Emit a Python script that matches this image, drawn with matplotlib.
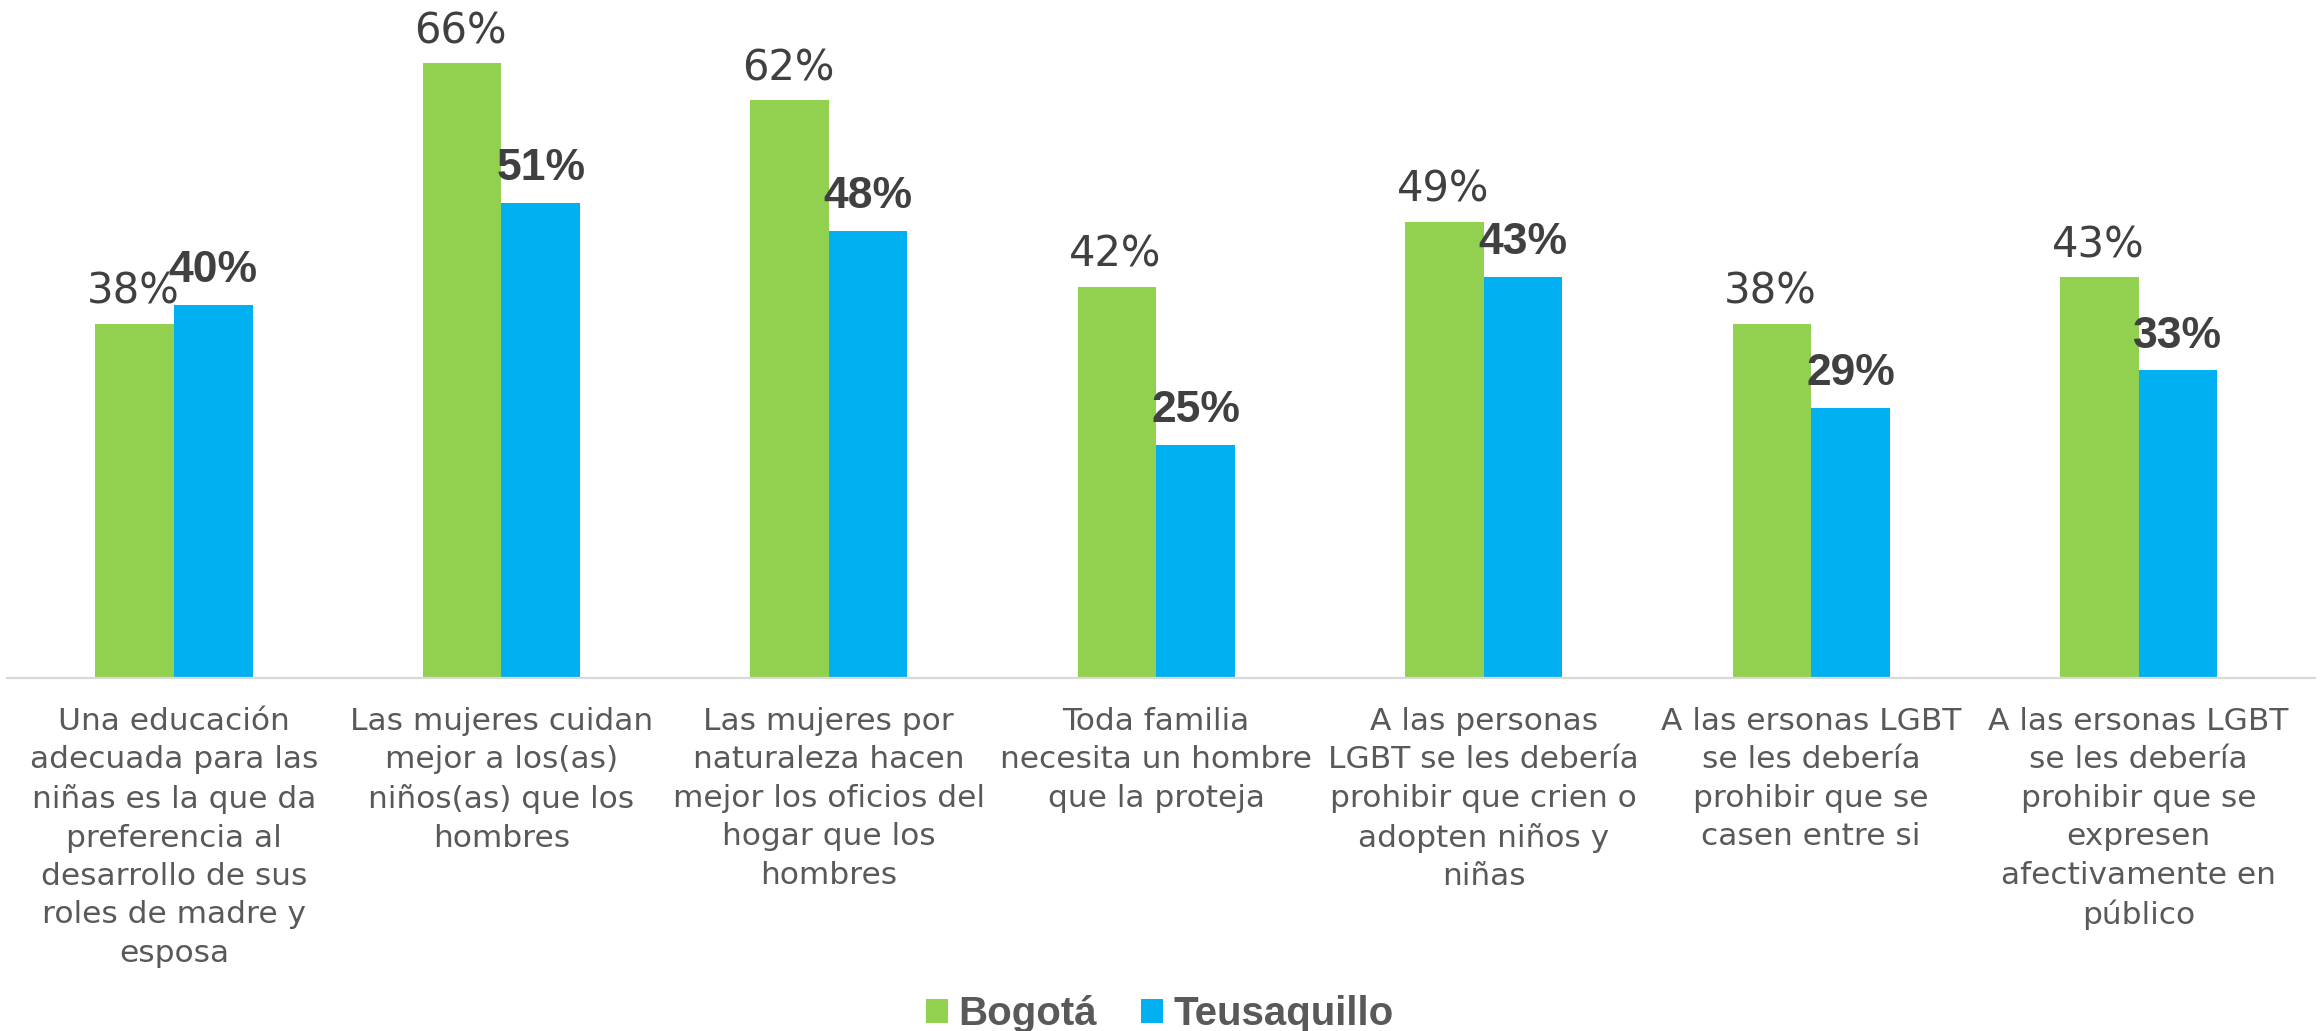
import matplotlib
matplotlib.use("Agg")
import matplotlib.pyplot as plt
from matplotlib.patches import Patch
import numpy as np

categories = [
    "Una educación\nadecuada para las\nniñas es la que da\npreferencia al\ndesarrollo de sus\nroles de madre y\nesposa",
    "Las mujeres cuidan\nmejor a los(as)\nniños(as) que los\nhombres",
    "Las mujeres por\nnaturaleza hacen\nmejor los oficios del\nhogar que los\nhombres",
    "Toda familia\nnecesita un hombre\nque la proteja",
    "A las personas\nLGBT se les debería\nprohibir que crien o\nadopten niños y\nniñas",
    "A las ersonas LGBT\nse les debería\nprohibir que se\ncasen entre si",
    "A las ersonas LGBT\nse les debería\nprohibir que se\nexpresen\nafectivamente en\npúblico",
]
series_names = ["Bogotá", "Teusaquillo"]
bogota = [38, 66, 62, 42, 49, 38, 43]
teusaquillo = [40, 51, 48, 25, 43, 29, 33]

GREEN = "#92d050"
BLUE = "#00b0f0"

fig = plt.figure(figsize=(23.2, 10.31), dpi=100)
ax = fig.add_axes([0.003, 1 - 677.7 / 1031, 0.995, (677.7 - 26) / 1031])

x = np.arange(len(categories))
w = 0.24
ax.bar(x - w / 2, bogota, w, color=GREEN)
ax.bar(x + w / 2, teusaquillo, w, color=BLUE)

for xi, v in zip(x, bogota):
    ax.annotate(f"{v}%", (xi - w / 2, v), xytext=(-1, 8), textcoords="offset points",
                ha="center", va="bottom", fontsize=30, color="#404040",
                family="DejaVu Sans")
for xi, v in zip(x, teusaquillo):
    ax.annotate(f"{v}%", (xi + w / 2, v), xytext=(0, 10), textcoords="offset points",
                ha="center", va="bottom", fontsize=32, color="#404040",
                family="Liberation Sans", fontweight="bold")

ax.set_xlim(-0.51, 6.54)
ax.set_ylim(0, 70)
ax.set_xticks(x)
ax.set_xticklabels(categories, fontsize=22.5, color="#595959", family="DejaVu Sans",
                   linespacing=1.41, va="top", ha="center")
ax.tick_params(axis="x", length=0, pad=21)
ax.set_yticks([])
for s in ["top", "left", "right"]:
    ax.spines[s].set_visible(False)
ax.spines["bottom"].set_color("#d9d9d9")
ax.spines["bottom"].set_linewidth(1.6)

handles = [Patch(facecolor=GREEN), Patch(facecolor=BLUE)]
fig.legend(handles, series_names, loc="lower center", bbox_to_anchor=(0.5, -0.002),
           ncol=2, frameon=False, handlelength=0.55, handleheight=0.55,
           handletextpad=0.25, columnspacing=1.1, borderpad=0, borderaxespad=0,
           prop={"family": "Liberation Sans", "weight": "bold", "size": 29},
           labelcolor="#595959")

fig.savefig("out.png", dpi=100, facecolor="white")
